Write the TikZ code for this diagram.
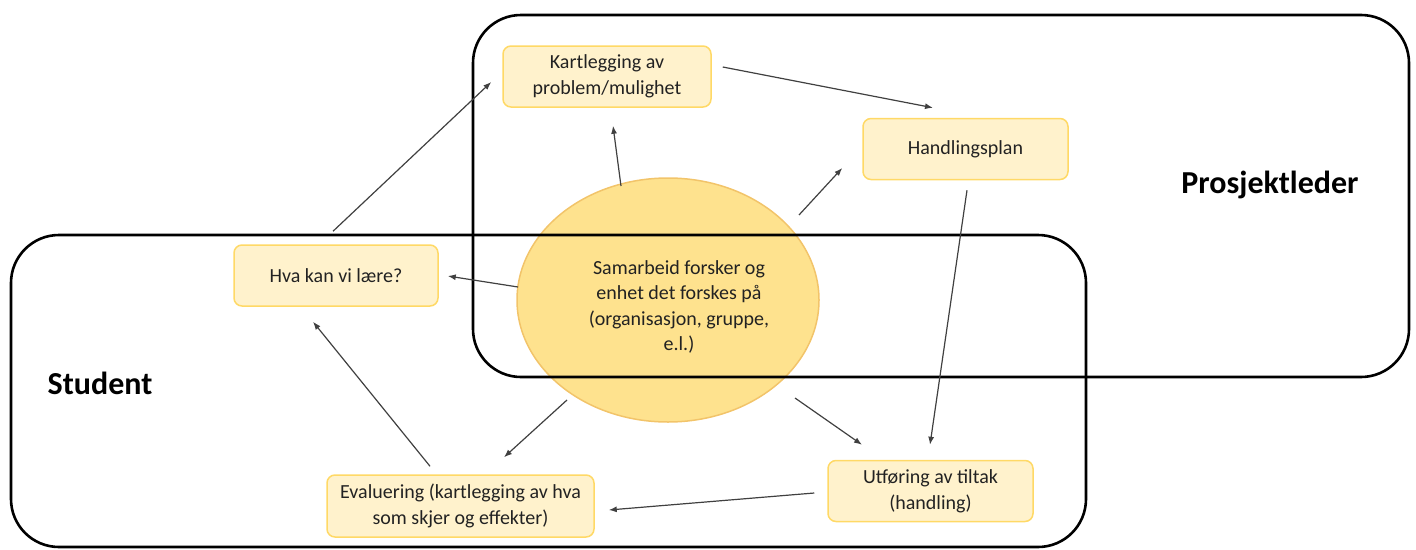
\documentclass[tikz,border=0pt]{standalone}
\usepackage{fontspec}
\setmainfont{Carlito}
\usetikzlibrary{shapes.geometric,arrows.meta}
\definecolor{boxfill}{HTML}{FFF2CC}
\definecolor{boxline}{HTML}{FFD966}
\definecolor{ellfill}{HTML}{FEE28E}
\definecolor{ellline}{HTML}{F2C46A}
\definecolor{arrcol}{HTML}{404040}
\definecolor{txtcol}{HTML}{222222}
\tikzset{
  stepbox/.style={draw=boxline, fill=boxfill, line width=1.5pt, rounded corners=8pt,
    minimum width=205pt, minimum height=61pt, align=center, inner sep=0pt,
    text=txtcol, font=\fontsize{20}{26}\selectfont},
  frame/.style={draw=black, line width=2.6pt, rounded corners=48pt},
  arr/.style={draw=arrcol, line width=1.2pt, -{Latex[length=8pt,width=6pt]}},
  rolelabel/.style={font=\fontsize{32}{36}\selectfont\bfseries, text=black, inner sep=0pt}
}
\begin{document}
\begin{tikzpicture}[x=1pt,y=-1pt]
\useasboundingbox (0,0) rectangle (1416,549);
% central ellipse
\node[ellipse, draw=ellline, fill=ellfill, line width=1.5pt, minimum width=302pt, minimum height=244pt, inner sep=0pt] (ell) at (668,300) {};
\node[align=center, text=txtcol, font=\fontsize{20}{25.5}\selectfont, inner sep=0pt] (elltext) at (679,307)
  {Samarbeid forsker og\\enhet det forskes på\\(organisasjon, gruppe,\\e.l.)};
% role frames
\draw[frame] (473,15) rectangle (1409,377);
\draw[frame] (11,235) rectangle (1086,547);
\node[rolelabel] (student) at (100,383) {Student};
\node[rolelabel] (prosj) at (1270,185) {Prosjektleder};
% step boxes
\node[stepbox, minimum width=208pt] (kart) at (607,76.5) {Kartlegging av\\problem/mulighet};
\node[stepbox] (hplan) at (965.5,149) {Handlingsplan};
\node[stepbox, minimum width=204pt] (hva) at (336,275.5) {Hva kan vi lære?};
\node[stepbox, minimum width=267pt, minimum height=62pt] (eval) at (460.5,506) {Evaluering (kartlegging av hva\\som skjer og effekter)};
\node[stepbox] (utf) at (930.5,491) {Utføring av tiltak\\(handling)};
% connectors
\draw[arr] ([shift={(11,-9.5)}]kart.east) -- ([shift={(-32.5,-10)}]hplan.north);
\draw[arr] ([shift={(1.5,10)}]hplan.south) -- ([shift={(-0.5,-15)}]utf.north);
\draw[arr] ([shift={(-47,-114)}]ell.center) -- ([shift={(6,18)}]kart.south);
\draw[arr] ([shift={(131,-85)}]ell.center) -- ([shift={(-20,19)}]hplan.west);
\draw[arr] ([shift={(-150,-13)}]ell.center) -- ([shift={(9,0.5)}]hva.east);
\draw[arr] ([shift={(127,98)}]ell.center) -- ([shift={(-68.5,-15)}]utf.north);
\draw[arr] ([shift={(-101,100)}]ell.center) -- ([shift={(43.5,-17)}]eval.north);
\draw[arr] ([shift={(-13,2)}]utf.west) -- ([shift={(14,4)}]eval.east);
\draw[arr] ([shift={(-30.5,-8)}]eval.north) -- ([shift={(-23,15)}]hva.south);
\draw[arr] ([shift={(-3,-13)}]hva.north) -- ([shift={(-11,5.5)}]kart.west);
\end{tikzpicture}
\end{document}
